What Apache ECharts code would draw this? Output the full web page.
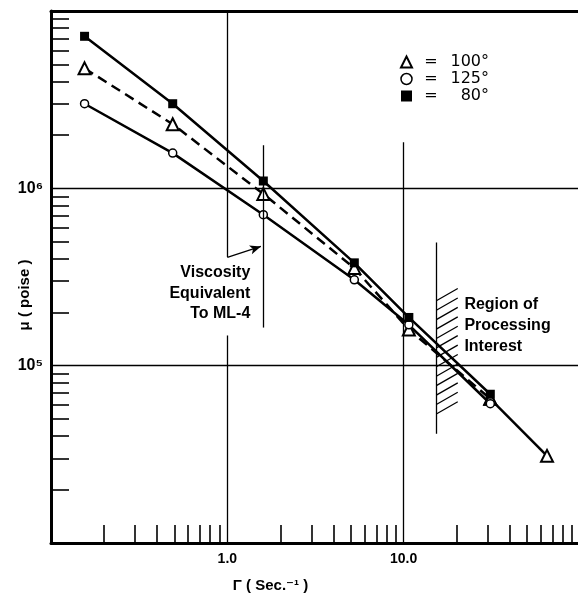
<!DOCTYPE html>
<html><head><meta charset="utf-8">
<script src="https://cdn.jsdelivr.net/npm/echarts@6/dist/echarts.min.js"></script>
<style>html,body{margin:0;padding:0;background:#fff}#c{width:578px;height:595px}</style>
</head><body><div id="c"></div>
<script>
// ---- data ----
const shearRate = [0.155, 0.49, 1.6, 5.25, 10.7, 31, 65];
const mu100 = [4.75e6, 2.3e6, 9.3e5, 3.55e5, 1.6e5, 6.5e4, 3.1e4];
const mu125 = [3.0e6, 1.58e6, 7.1e5, 3.05e5, 1.7e5, 6.1e4];
const mu80 = [7.2e6, 3.0e6, 1.1e6, 3.8e5, 1.87e5, 6.9e4];
const seriesNames = ['100°', '125°', '80°'];
const xTickValues = [0.2,0.3,0.4,0.5,0.6,0.7,0.8,0.9, 2,3,4,5,6,7,8,9, 20,30,40,50,60,70,80,90];
const xLabelValues = [1, 10];
const xLabelText = ['1.0', '10.0'];
const yTickValues = [2e4,3e4,4e4,5e4,6e4,7e4,8e4,9e4, 2e5,3e5,4e5,5e5,6e5,7e5,8e5,9e5, 2e6,3e6,4e6,5e6,6e6,7e6,8e6,9e6];
const yLabelValues = [1e5, 1e6];
const yLabelText = ['10\u2075', '10\u2076'];
const ml4Rate = 1.6;          // viscosity equivalent to ML-4
const processingRate = 15.4;  // region of processing interest

const pairs = (ys) => ys.map((y, i) => [shearRate[i], y]);
const pts100 = pairs(mu100);
const labelFor = (vals, txt) => (v) => {
  const i = vals.findIndex(a => Math.abs(a - v) / a < 1e-6);
  return i >= 0 ? txt[i] : '';
};
const FONT = '"Liberation Sans", "DejaVu Sans", Arial, sans-serif';

const chart = echarts.init(document.getElementById('c'), null, {renderer: 'canvas'});
const option = {
  animation: false,
  backgroundColor: '#fff',
  grid: {left: 51, right: -2, top: 11, bottom: 52, outerBoundsMode: 'none', containLabel: false},
  legend: {
    orient: 'vertical', left: 395, top: 49, itemWidth: 11, itemHeight: 11, itemGap: 1,
    selectedMode: false,
    data: [
      {name: seriesNames[0], icon: 'triangle', itemStyle: {color: '#fff', borderColor: '#000', borderWidth: 2}},
      {name: seriesNames[1], icon: 'circle', itemStyle: {color: '#fff', borderColor: '#000', borderWidth: 1.5}},
      {name: seriesNames[2], icon: 'rect', itemStyle: {color: '#000', borderColor: '#000', borderWidth: 0}}
    ],
    formatter: (n) => '{e|=}{v|' + n + '}',
    textStyle: {
      fontFamily: '"DejaVu Sans", sans-serif', fontSize: 16, color: '#000', lineHeight: 16,
      rich: {
        e: {width: 28, align: 'center', fontSize: 16, fontFamily: '"DejaVu Sans", sans-serif'},
        v: {width: 44, align: 'right', fontSize: 16, fontFamily: '"DejaVu Sans", sans-serif'}
      }
    }
  },
  xAxis: [{
    type: 'log', logBase: 10, min: 0.1, max: 100, position: 'bottom',
    axisLine: {show: true, lineStyle: {color: '#000', width: 3}},
    axisTick: {show: true, customValues: xTickValues, inside: true, length: 18, lineStyle: {color: '#000', width: 1.6}},
    axisLabel: {customValues: xLabelValues, formatter: labelFor(xLabelValues, xLabelText),
      color: '#000', fontSize: 14, fontWeight: 'bold', fontFamily: FONT, margin: 9},
    splitLine: {show: false}, minorTick: {show: false},
    name: 'Γ ( Sec.\u207B\u00B9 )', nameLocation: 'middle', nameGap: 35, nameMoveOverlap: false,
    nameTextStyle: {color: '#000', fontSize: 15, fontWeight: 'bold', fontFamily: FONT, padding: [0, 90, 0, 0]}
  }, {
    type: 'log', logBase: 10, min: 0.1, max: 100, position: 'top',
    axisLine: {show: true, lineStyle: {color: '#000', width: 3}},
    axisTick: {show: false}, axisLabel: {show: false}, splitLine: {show: false}
  }],
  yAxis: {
    type: 'log', logBase: 10, min: 1e4, max: 1e7,
    axisLine: {show: true, lineStyle: {color: '#000', width: 3}},
    axisTick: {show: true, customValues: yTickValues, inside: true, length: 18, lineStyle: {color: '#000', width: 1.6}},
    axisLabel: {customValues: yLabelValues, formatter: labelFor(yLabelValues, yLabelText),
      color: '#000', fontSize: 16, fontWeight: 'bold', fontFamily: FONT, margin: 8},
    splitLine: {show: false}, minorTick: {show: false},
    name: 'μ ( poise )', nameLocation: 'middle', nameGap: 19, nameRotate: 90, nameMoveOverlap: false,
    nameTextStyle: {color: '#000', fontSize: 15, fontWeight: 'bold', fontFamily: FONT, padding: [0, 36, 0, 0]}
  },
  series: [
    {
      name: seriesNames[0], type: 'line', data: pts100.slice(0, 6), z: 4,
      symbol: 'triangle', symbolSize: 12,
      itemStyle: {color: '#fff', borderColor: '#000', borderWidth: 2},
      lineStyle: {color: '#000', width: 2.5, type: [10, 6]}
    },
    {
      name: seriesNames[0], type: 'line', data: pts100.slice(5), z: 4,
      symbol: 'triangle', symbolSize: 12,
      itemStyle: {color: '#fff', borderColor: '#000', borderWidth: 2},
      lineStyle: {color: '#000', width: 2.5}
    },
    {
      name: seriesNames[1], type: 'line', data: pairs(mu125), z: 4,
      symbol: 'circle', symbolSize: 8,
      itemStyle: {color: '#fff', borderColor: '#000', borderWidth: 1.5},
      lineStyle: {color: '#000', width: 2.5}
    },
    {
      name: seriesNames[2], type: 'line', data: pairs(mu80), z: 4,
      symbol: 'rect', symbolSize: 9,
      itemStyle: {color: '#000', borderColor: '#000', borderWidth: 0},
      lineStyle: {color: '#000', width: 2.5}
    },
    {
      name: 'guides', type: 'line', data: [], silent: true, z: 2,
      markLine: {
        silent: true, symbol: ['none', 'none'], label: {show: false},
        lineStyle: {color: '#000', width: 1.3, type: 'solid'},
        data: [
          {yAxis: 1e6},
          {yAxis: 1e5},
          [{coord: [1, 1e7]}, {coord: [1, 4.1e5]}],
          [{coord: [1, 1.48e5]}, {coord: [1, 1e4]}],
          [{coord: [10, 1.82e6]}, {coord: [10, 1e4]}],
          [{coord: [ml4Rate, 1.75e6]}, {coord: [ml4Rate, 1.64e5]}],
          [{coord: [processingRate, 4.95e5]}, {coord: [processingRate, 4.13e4]}],
          [{coord: [1.0, 4.08e5], symbol: 'none'}, {coord: [1.55, 4.7e5], symbol: 'arrow', symbolSize: [7, 11]}]
        ]
      }
    }
  ]
};
chart.setOption(option);

// annotations positioned from data coordinates
const P = (x, y) => chart.convertToPixel({xAxisIndex: 0, yAxisIndex: 0}, [x, y]);
const g = [];
const hTop = P(processingRate, 2.33e5), hBot = P(processingRate, 5.36e4);
const nH = 13;
for (let i = 0; i < nH; i++) {
  const y = hTop[1] + (hBot[1] - hTop[1]) * i / (nH - 1);
  g.push({type: 'line', silent: true, shape: {x1: hTop[0], y1: y, x2: hTop[0] + 21, y2: y - 12},
    style: {stroke: '#000', lineWidth: 1.3}});
}
const vt = P(1.35, 2.55e5);
g.push({type: 'text', x: vt[0], y: vt[1], silent: true,
  style: {text: 'Viscosity\nEquivalent\nTo ML-4', fill: '#000', font: 'bold 16px ' + FONT,
    align: 'right', verticalAlign: 'middle', lineHeight: 20.5}});
const rt = P(22.1, 1.68e5);
g.push({type: 'text', x: rt[0], y: rt[1], silent: true,
  style: {text: 'Region of\nProcessing\nInterest', fill: '#000', font: 'bold 16px ' + FONT,
    align: 'left', verticalAlign: 'middle', lineHeight: 21}});
chart.setOption({graphic: {elements: g}});
</script></body></html>
